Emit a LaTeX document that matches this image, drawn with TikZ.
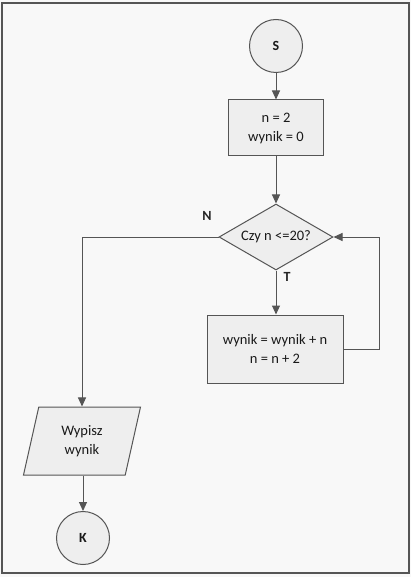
\documentclass[tikz,border=0pt]{standalone}
\usepackage{fontspec}
\setmainfont{Carlito}
\usetikzlibrary{shapes.geometric,arrows.meta}
\definecolor{ln}{HTML}{555555}
\definecolor{fl}{HTML}{EEEEEE}
\definecolor{bg}{HTML}{F8F8F8}
\begin{document}
\begin{tikzpicture}[x=1pt,y=-1pt,
  base/.style={draw=ln,line width=1pt,fill=fl,text=black!90,font=\fontsize{14.5}{19}\selectfont,align=center,inner sep=0pt},
  term/.style={base,circle,minimum size=53pt,font=\fontsize{14}{16}\selectfont\bfseries},
  procbox/.style={base,rectangle},
  decide/.style={base,diamond,aspect=1.73,minimum width=114pt,minimum height=66pt},
  io/.style={base,trapezium,trapezium left angle=64,trapezium right angle=116,minimum width=117pt,minimum height=68pt,trapezium stretches body},
  conn/.style={draw=ln,line width=1pt,-{Triangle[length=9pt,width=8pt]}},
  lbl/.style={font=\fontsize{14}{16}\selectfont\bfseries,text=black!85}]
\useasboundingbox (0,0) rectangle (411,577);
\fill[bg] (0,0) rectangle (411,577);
\draw[ln,line width=1.2pt] (2,3) rectangle (409,573);
\node[term] (s) at (276,46) {S};
\node[procbox,minimum width=95pt,minimum height=56pt] (init) at (276,128) {n = 2\\wynik = 0};
\node[decide] (cond) at (276,237) {Czy n <=20?};
\node[procbox,minimum width=136pt,minimum height=68pt] (body) at (275,349) {wynik = wynik + n\\n = n + 2};
\node[io] (out) at (82,441) {Wypisz\\wynik};
\node[term] (k) at (83,538) {K};
\coordinate (loopA) at (379,349);
\coordinate (loopB) at (379,237);
\coordinate (nA) at (82,237);
\draw[conn] (s) -- (init);
\draw[conn] (init) -- (cond.north);
\draw[conn] (cond.south) -- (body.north -| cond.south);
\draw[conn] (body.east) -- (loopA) -- (loopB) -- (cond.east);
\draw[conn] (cond.west) -- (nA) -- (out.north -| nA);
\draw[conn] (out.south -| k) -- (k);
\node[lbl] (nl) at (207,216) {N};
\node[lbl] (tl) at (287,277) {T};
\end{tikzpicture}
\end{document}
